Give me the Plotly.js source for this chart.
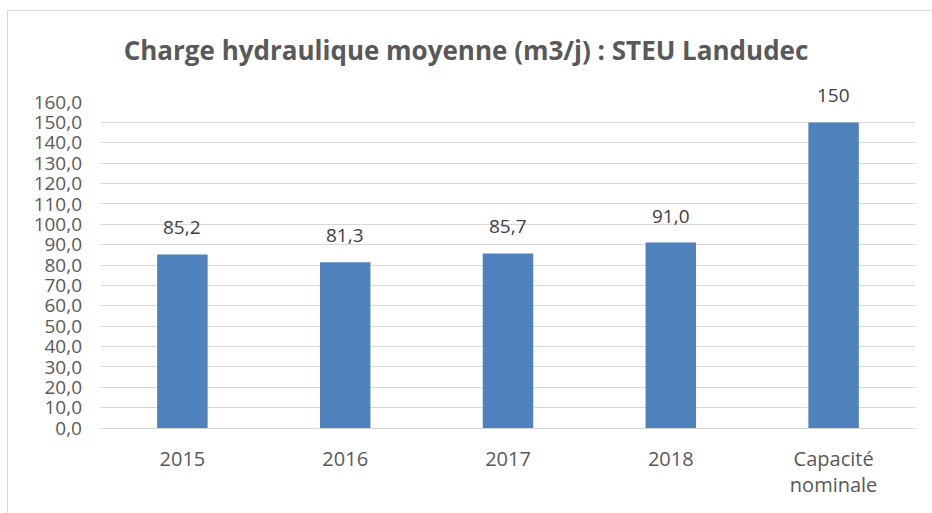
<!DOCTYPE html>
<html>
<head>
<meta charset="utf-8">
<script src="https://cdn.plot.ly/plotly-3.0.1.min.js"></script>
<style>
html,body{margin:0;padding:0;background:#fff;}
#wrap{position:relative;width:932px;height:513px;overflow:hidden;}
#frame{position:absolute;left:7px;top:10px;width:940px;height:520px;border:1px solid #d9d9d9;box-sizing:border-box;pointer-events:none;}
#chart{position:absolute;left:0;top:0;width:932px;height:513px;}
</style>
</head>
<body>
<div id="wrap"><div id="chart"></div><div id="frame"></div></div>
<script>
const categories = ["2015", "2016", "2017", "2018", "Capacité<br>nominale"];
const values = [85.2, 81.3, 85.7, 91.0, 150];
const valueLabels = ["85,2", "81,3", "85,7", "91,0", "150"];
const yTickVals = [0,10,20,30,40,50,60,70,80,90,100,110,120,130,140,150,160];

const textColor = "#595959";
const font = "'Open Sans', 'Noto Sans', sans-serif";

const trace = {
  type: "bar",
  x: categories,
  y: values,
  marker: {color: "#4F81BD"},
  hoverinfo: "none"
};

const annotations = categories.map((c, i) => ({
  x: i, y: values[i], xref: "x", yref: "y",
  text: valueLabels[i], showarrow: false,
  yanchor: "bottom", yshift: 12,
  font: {family: font, size: 19, color: "#404040"}
}));

const layout = {
  width: 932, height: 513,
  margin: {l: 101, r: 17, t: 102, b: 85, pad: 0},
  paper_bgcolor: "#ffffff",
  plot_bgcolor: "#ffffff",
  separators: ", ",
  bargap: 0.69,
  showlegend: false,
  title: {
    text: "Charge hydraulique moyenne (m3/j) : STEU Landudec",
    x: 0.5, xref: "container", xanchor: "center",
    y: 50, yref: "container", yanchor: "middle",
    font: {family: font, size: 26, color: textColor, weight: "bold"}
  },
  xaxis: {
    type: "category",
    range: [-0.5, 4.5],
    showgrid: false,
    showline: true, linecolor: "#d9d9d9", linewidth: 1,
    ticks: "", ticklabelstandoff: 13,
    tickfont: {family: font, size: 20, color: textColor},
    fixedrange: true
  },
  yaxis: {
    range: [0, 160],
    tickvals: yTickVals,
    tickformat: ".1f",
    showgrid: true, gridcolor: "#d9d9d9", gridwidth: 1,
    zeroline: false, showline: false,
    ticks: "", ticklabelstandoff: 18,
    tickfont: {family: font, size: 19, color: textColor},
    fixedrange: true
  },
  annotations: annotations
};

Plotly.newPlot("chart", [trace], layout, {displayModeBar: false, staticPlot: true});
</script>
</body>
</html>
